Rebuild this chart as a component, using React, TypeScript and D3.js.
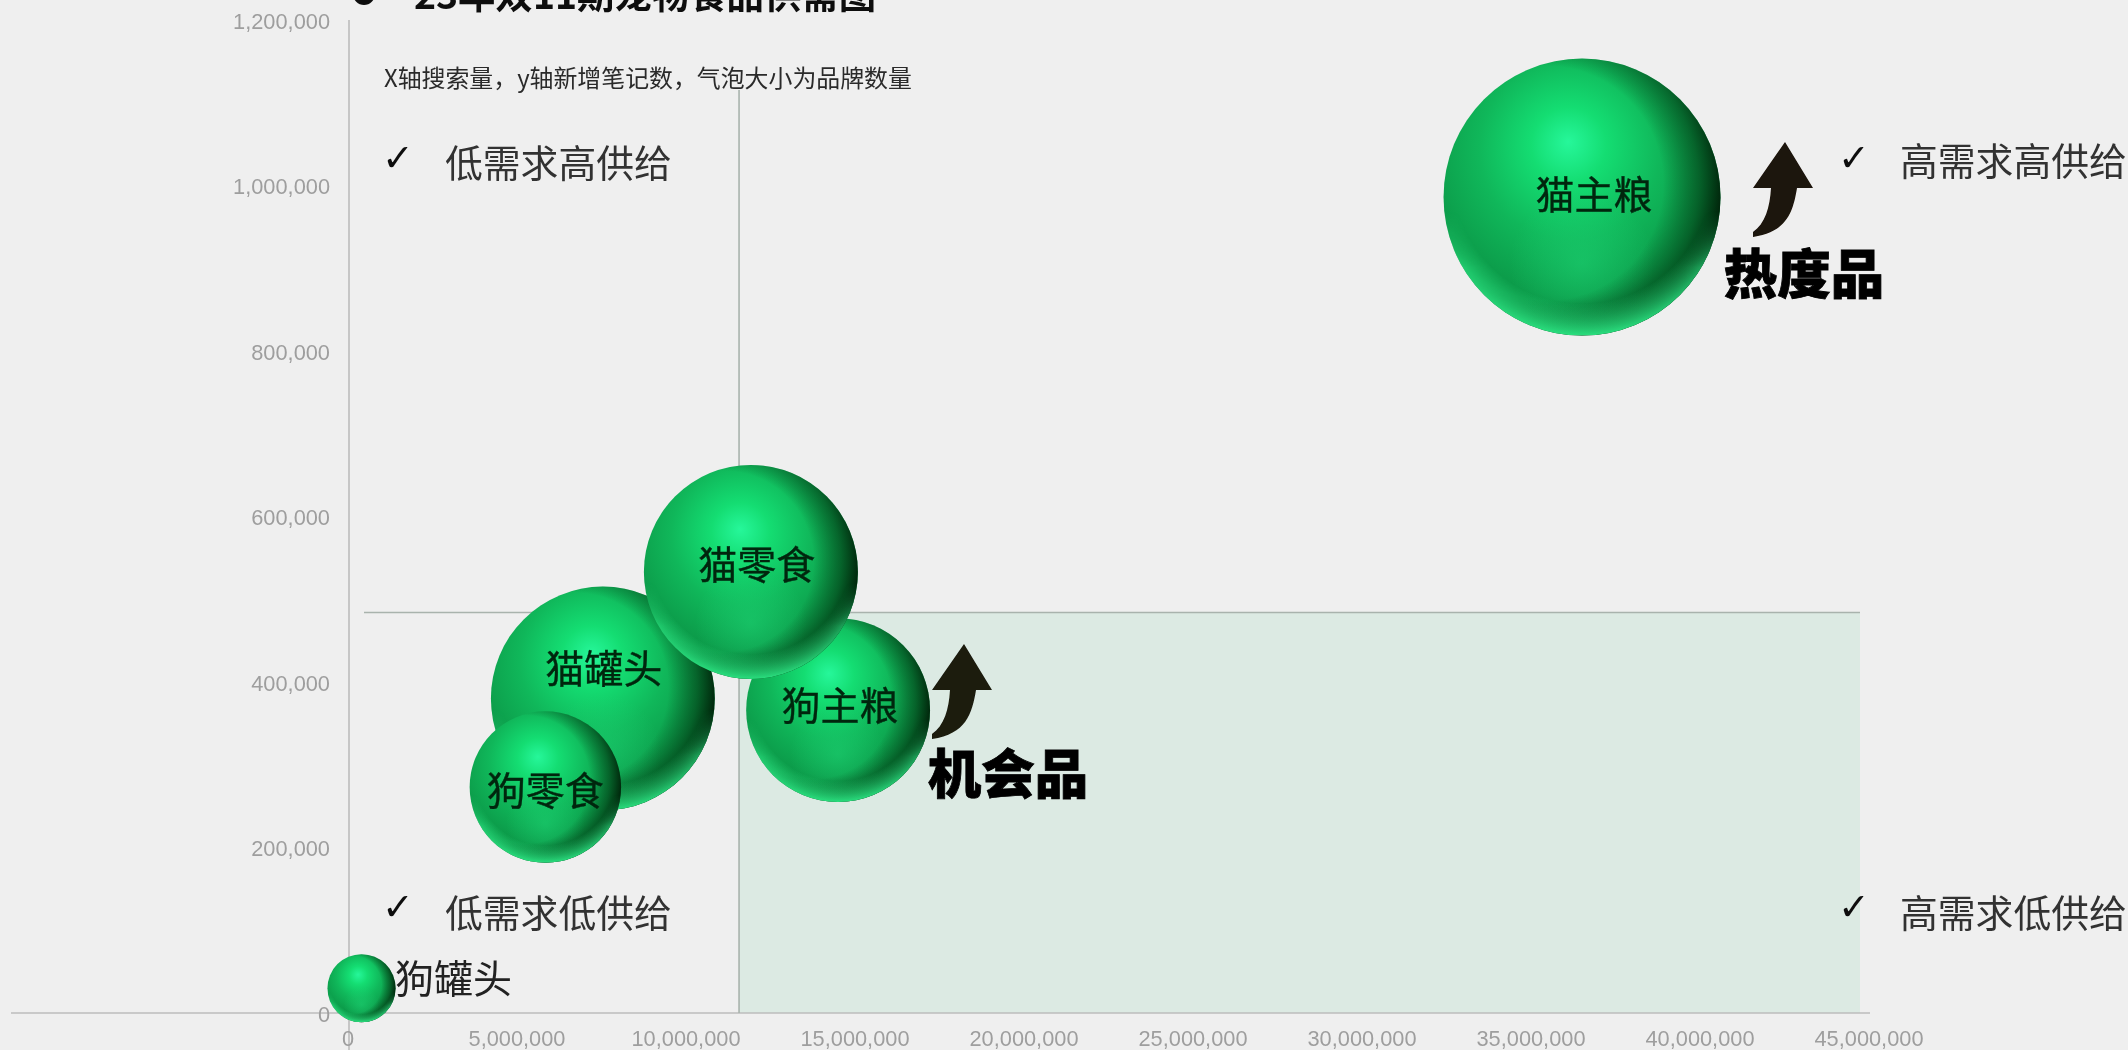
import React from "react";
import * as d3 from "d3";

const categories = ["猫主粮", "狗主粮", "猫罐头", "猫零食", "狗零食", "狗罐头"];
const searchVolume = [36480000, 14470000, 7510000, 11890000, 5810000, 370000];
const newNotes = [986000, 366000, 380000, 533000, 273000, 30000];
const brandCount = [9600, 4230, 6270, 5730, 2870, 580];
const xTicks = [0, 5e6, 10e6, 15e6, 20e6, 25e6, 30e6, 35e6, 40e6, 45e6];
const yTicks = [0, 2e5, 4e5, 6e5, 8e5, 1e6, 1.2e6];
const splitX = 11540000;
const splitY = 484000;
const titleText = "23年双11期宠物食品供需图";
const subtitleText = "X轴搜索量，y轴新增笔记数，气泡大小为品牌数量";

const W = 2128, H = 1050;
const x = d3.scaleLinear().domain([0, 45e6]).range([349, 1870]);
const y = d3.scaleLinear().domain([0, 1.2e6]).range([1013, 20]);
const r = d3.scaleSqrt().domain([0, 9600]).range([0, 138.5]);
const fmt = d3.format(",");

const labelDx = [12, 2, 1, 6, 0, 92];
const labelDy = [-5, -7, -33, -10, 1, -12];

const CJK = "'Noto Sans CJK SC','Noto Sans',sans-serif";
const LATIN = "'Liberation Sans',Arial,sans-serif";

function arrowPath(tipX: number, tipY: number, s: number) {
  const p = d3.path();
  p.moveTo(tipX, tipY);
  p.lineTo(tipX + 28 * s, tipY + 46 * s);
  p.lineTo(tipX + 12 * s, tipY + 46 * s);
  p.bezierCurveTo(tipX + 8 * s, tipY + 70 * s, tipX + 2 * s, tipY + 90 * s, tipX - 32 * s, tipY + 95 * s);
  p.lineTo(tipX - 32 * s, tipY + 90 * s);
  p.bezierCurveTo(tipX - 20 * s, tipY + 82 * s, tipX - 15 * s, tipY + 65 * s, tipX - 14 * s, tipY + 46 * s);
  p.lineTo(tipX - 32 * s, tipY + 46 * s);
  p.closePath();
  return p.toString();
}

const quadrants = [
  { t: "低需求高供给", cx: 398, tx: 445, cy: 160, ky: 158 },
  { t: "高需求高供给", cx: 1854, tx: 1900, cy: 158, ky: 158 },
  { t: "低需求低供给", cx: 398, tx: 445, cy: 910, ky: 907 },
  { t: "高需求低供给", cx: 1854, tx: 1900, cy: 910, ky: 907 },
];

export default function App() {
  return (
    <svg width={W} height={H} viewBox={`0 0 ${W} ${H}`} style={{ position: "fixed", left: 0, top: 0, display: "block" }}>
      <defs>
        <radialGradient id="base" cx="0.46" cy="0.36" r="0.68" fx="0.45" fy="0.3">
          <stop offset="0" stopColor="#26f79a" />
          <stop offset="0.2" stopColor="#14dd72" />
          <stop offset="0.48" stopColor="#10b75a" />
          <stop offset="0.75" stopColor="#0c9c4a" />
          <stop offset="1" stopColor="#06702f" />
        </radialGradient>
        <radialGradient id="lowGlow" cx="0.5" cy="0.74" r="0.26">
          <stop offset="0" stopColor="#1fd676" stopOpacity="0.5" />
          <stop offset="1" stopColor="#1fd676" stopOpacity="0" />
        </radialGradient>
        <radialGradient id="shadeRight" cx="0.37" cy="0.45" r="0.64">
          <stop offset="0.66" stopColor="#00320f" stopOpacity="0" />
          <stop offset="0.86" stopColor="#00320f" stopOpacity="0.55" />
          <stop offset="1" stopColor="#001f08" stopOpacity="0.97" />
        </radialGradient>
        <radialGradient id="rimBottom" cx="0.5" cy="0.42" r="0.58">
          <stop offset="0.8" stopColor="#2ff08a" stopOpacity="0" />
          <stop offset="1" stopColor="#2ff08a" stopOpacity="0.9" />
        </radialGradient>
        <linearGradient id="rimMask" x1="0" y1="0.55" x2="0" y2="1">
          <stop offset="0" stopColor="#000" />
          <stop offset="0.45" stopColor="#fff" />
          <stop offset="1" stopColor="#fff" />
        </linearGradient>
        <mask id="rimM" maskContentUnits="objectBoundingBox">
          <rect x="0" y="0" width="1" height="1" fill="url(#rimMask)" />
        </mask>
        <filter id="soft" x="-5%" y="-5%" width="110%" height="110%">
          <feGaussianBlur stdDeviation="0.55" />
        </filter>
      </defs>
      <rect width={W} height={H} fill="#efefef" />

      <rect x={x(splitX)} y={y(splitY)} width={1860 - x(splitX)} height={y(0) - y(splitY)} fill="#dceae3" />

      <g stroke="#bcbcbc" strokeWidth={1.6}>
        <line x1={x(0)} x2={x(0)} y1={y(1.2e6)} y2={H} />
        <line x1={11} x2={x(45e6)} y1={y(0)} y2={y(0)} />
      </g>
      <g stroke="#a9b3ad" strokeWidth={1.6}>
        <line x1={x(splitX)} x2={x(splitX)} y1={90} y2={y(0)} />
        <line x1={364} x2={1860} y1={y(splitY)} y2={y(splitY)} />
      </g>

      <g filter="url(#soft)">
        <g fontFamily={LATIN} fontSize={21.8} fill="#9e9e9e">
          {yTicks.map((v) => (
            <text key={v} x={330} y={y(v) + 1} textAnchor="end" dominantBaseline="central">{fmt(v)}</text>
          ))}
          {xTicks.map((v) => (
            <text key={v} x={x(v) - 1} y={1038} textAnchor="middle" dominantBaseline="central">{fmt(v)}</text>
          ))}
        </g>

        <circle cx={364} cy={-6} r={11} fill="#111" />
        <text x={414} y={9} fontFamily={CJK} fontWeight={700} fontSize={37.4} fill="#111">{titleText}</text>
        <text x={384} y={76} fontFamily={CJK} fontSize={23.9} fill="#2a2a2a" dominantBaseline="central">{subtitleText}</text>

        {quadrants.map((q) => (
          <g key={q.t}>
            <text x={q.cx} y={q.ky} textAnchor="middle" dominantBaseline="central" fontFamily="'DejaVu Sans',sans-serif" fontSize={38} fill="#111">✓</text>
            <text x={q.tx} y={q.cy} dominantBaseline="central" fontFamily={CJK} fontSize={37.8} fill="#333">{q.t}</text>
          </g>
        ))}
      </g>

      {categories.map((c, i) => {
        const cx = x(searchVolume[i]), cy = y(newNotes[i]), rr = r(brandCount[i]);
        return (
          <g key={c}>
            <circle cx={cx} cy={cy} r={rr} fill="url(#base)" />
            <circle cx={cx} cy={cy} r={rr} fill="url(#lowGlow)" />
            <circle cx={cx} cy={cy} r={rr} fill="url(#shadeRight)" />
            <g mask="url(#rimM)">
              <circle cx={cx} cy={cy} r={rr} fill="url(#rimBottom)" />
            </g>
          </g>
        );
      })}

      <g filter="url(#soft)">
        {categories.map((c, i) => (
          <text key={c} x={x(searchVolume[i]) + labelDx[i]} y={y(newNotes[i]) + labelDy[i]} textAnchor="middle" dominantBaseline="central"
            fontFamily={CJK} fontSize={39} fill={i === 5 ? "#222" : "#04260f"} stroke={i === 5 ? "none" : "#04260f"} strokeWidth={0.4}>{c}</text>
        ))}
        <path d={arrowPath(1785, 142, 1)} fill="#1a1208" />
        <path d={arrowPath(964, 644, 1)} fill="#1a1a0c" />
        <text x={1804} y={270} textAnchor="middle" dominantBaseline="central" fontFamily={CJK} fontWeight={900} fontSize={53.5} fill="#000" stroke="#000" strokeWidth={0.8}>热度品</text>
        <text x={1008} y={770} textAnchor="middle" dominantBaseline="central" fontFamily={CJK} fontWeight={900} fontSize={53.5} fill="#000" stroke="#000" strokeWidth={0.8}>机会品</text>
      </g>
    </svg>
  );
}
